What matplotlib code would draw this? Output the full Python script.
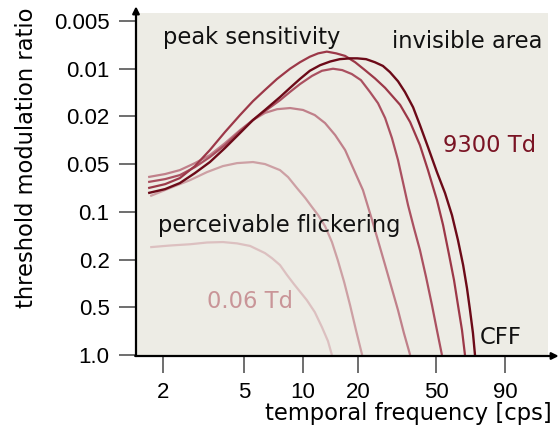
import numpy as np
import matplotlib
matplotlib.use("Agg")
import matplotlib.pyplot as plt
from matplotlib.ticker import NullLocator

# ---------------- data ----------------
freq_ticks = [2, 5, 10, 20, 50, 90]
freq_labels = ["2", "5", "10", "20", "50", "90"]
ratio_ticks = [0.005, 0.01, 0.02, 0.05, 0.1, 0.2, 0.5, 1.0]
ratio_labels = ["0.005", "0.01", "0.02", "0.05", "0.1", "0.2", "0.5", "1.0"]

# curve for 0.06 Td (lowest retinal illuminance)
c1_f = [1.73, 2.16, 2.72, 3.29, 3.94, 4.62, 5.37, 6.40, 6.95, 7.63, 8.29, 8.99, 10.5, 11.6, 12.7, 13.7, 14.4]
c1_r = [0.167, 0.163, 0.160, 0.156, 0.155, 0.158, 0.164, 0.182, 0.196, 0.222, 0.269, 0.320, 0.436, 0.536, 0.667, 0.817, 1.0]

c2_f = [1.73, 2.16, 2.72, 3.29, 3.94, 4.62, 5.56, 6.40, 7.63, 8.39, 9.32, 10.3, 11.2, 12.1, 13.2, 14.4, 15.5, 16.8, 18.1, 19.5, 21.0]
c2_r = [0.0795, 0.0708, 0.063, 0.0561, 0.0514, 0.049, 0.048, 0.0499, 0.0545, 0.0603, 0.0708, 0.0818, 0.0932, 0.1048, 0.123, 0.155, 0.202, 0.308, 0.48, 0.697, 1.0]

c3_f = [1.69, 2.05, 2.42, 2.87, 3.40, 4.03, 4.78, 5.56, 6.40, 7.37, 8.59, 10.0, 11.6, 13.2, 15.0, 17.0, 18.5, 21.2, 23.6, 27.5, 32.0, 34.3, 36.9]
c3_r = [0.0603, 0.0577, 0.0545, 0.049, 0.042, 0.0334, 0.026, 0.0214, 0.019, 0.018, 0.0177, 0.0182, 0.0196, 0.0227, 0.0286, 0.0381, 0.0507, 0.0729, 0.1127, 0.222, 0.521, 0.727, 1.0]

c4_f = [1.69, 2.05, 2.42, 2.87, 3.40, 4.03, 4.78, 5.56, 6.40, 7.63, 8.59, 9.65, 11.2, 12.7, 14.6, 16.4, 18.5, 20.7, 23.0, 25.3, 27.5, 29.8, 32.0, 33.9, 36.0, 38.6, 41.4, 44.5, 47.7, 50.4, 52.6]
c4_r = [0.0648, 0.0621, 0.0586, 0.0522, 0.0436, 0.0347, 0.0265, 0.0214, 0.0185, 0.0158, 0.0140, 0.0125, 0.0111, 0.0103, 0.0100, 0.0102, 0.0108, 0.0118, 0.014, 0.0165, 0.0206, 0.0303, 0.0462, 0.0648, 0.0906, 0.1265, 0.174, 0.280, 0.48, 0.697, 1.0]

c5_f = [1.69, 2.05, 2.42, 2.87, 3.40, 4.03, 4.78, 5.56, 6.40, 7.37, 8.59, 9.65, 10.9, 12.1, 13.5, 15.2, 17.0, 19.3, 21.7, 24.4, 27.5, 32.8, 36.9, 41.4, 45.5, 50.4, 53.1, 55.9, 58.3, 60.3, 62.4, 64.0]
c5_r = [0.0708, 0.0668, 0.0612, 0.0514, 0.0381, 0.027, 0.0196, 0.016, 0.0136, 0.0116, 0.0100, 0.0091, 0.0084, 0.0080, 0.0078, 0.0080, 0.0083, 0.0091, 0.0102, 0.0115, 0.0132, 0.0169, 0.0223, 0.0347, 0.0545, 0.0842, 0.121, 0.187, 0.297, 0.48, 0.697, 1.0]

# curve for 9300 Td (highest retinal illuminance)
c6_f = [1.69, 2.05, 2.42, 2.87, 3.40, 4.03, 4.78, 5.56, 6.40, 7.63, 8.59, 9.65, 10.9, 12.4, 14.1, 15.9, 18.1, 19.8, 22.0, 24.4, 26.8, 29.1, 32.0, 34.7, 38.2, 41.4, 45.5, 50.4, 54.0, 57.3, 60.3, 63.0, 65.1, 66.8, 68.5, 69.7]
c6_r = [0.0761, 0.0718, 0.0658, 0.0569, 0.048, 0.0367, 0.0275, 0.0214, 0.0182, 0.0151, 0.0132, 0.0116, 0.0103, 0.0095, 0.0090, 0.0087, 0.0086, 0.0086, 0.0087, 0.0091, 0.0096, 0.0105, 0.012, 0.014, 0.0175, 0.0236, 0.036, 0.0561, 0.0761, 0.105, 0.151, 0.222, 0.346, 0.521, 0.727, 1.0]

# ---------------- axis mapping (layout of the drawn axes) ----------------
XTICK_POS = [163, 244, 303, 358, 436, 505]          # where each frequency tick sits
lx_t = np.log10(freq_ticks)
s_lo = (XTICK_POS[1] - XTICK_POS[0]) / (lx_t[1] - lx_t[0])
s_hi = (XTICK_POS[-1] - XTICK_POS[-2]) / (lx_t[-1] - lx_t[-2])
LX = np.concatenate([[-1.0], lx_t, [3.0]])
PX = np.concatenate([[XTICK_POS[0] - s_lo * (lx_t[0] + 1.0)], XTICK_POS,
                     [XTICK_POS[-1] + s_hi * (3.0 - lx_t[-1])]])


def fx(x):
    x = np.clip(np.asarray(x, float), 1e-6, None)
    return np.interp(np.log10(x), LX, PX)


def fx_inv(p):
    return 10 ** np.interp(np.asarray(p, float), PX, LX)


ly_t = np.log10(ratio_ticks)
IDX = np.arange(len(ratio_ticks), dtype=float)     # ticks equally spaced
g_lo = (ly_t[1] - ly_t[0])
g_hi = (ly_t[-1] - ly_t[-2])
LY = np.concatenate([[ly_t[0] - 3 * g_lo], ly_t, [ly_t[-1] + 3 * g_hi]])
IY = np.concatenate([[-3.0], IDX, [IDX[-1] + 3.0]])


def fy(v):
    v = np.clip(np.asarray(v, float), 1e-9, None)
    return np.interp(np.log10(v), LY, IY)


def fy_inv(i):
    return 10 ** np.interp(np.asarray(i, float), IY, LY)


# ---------------- figure ----------------
fig = plt.figure(figsize=(5.6, 4.28), dpi=100)
ax = fig.add_axes([136 / 560, 1 - 356 / 428, 412 / 560, 343 / 428])
ax.set_facecolor("#edece5")

ax.set_xscale("function", functions=(fx, fx_inv))
ax.set_yscale("function", functions=(fy, fy_inv))
ax.set_xlim(fx_inv(136), fx_inv(548))
ax.set_ylim(fy_inv(7.02), fy_inv(-0.168))

curves = [(c1_f, c1_r, "#dcc0c0", 1.6),
          (c2_f, c2_r, "#cda0a4", 1.6),
          (c3_f, c3_r, "#c0808a", 1.6),
          (c4_f, c4_r, "#aa5060", 1.6),
          (c5_f, c5_r, "#9c3848", 1.6),
          (c6_f, c6_r, "#6c0a18", 1.7)]
for f, r, col, lw in curves:
    ax.plot(f, r, color=col, lw=lw, solid_capstyle="butt", solid_joinstyle="round")

for s in ax.spines.values():
    s.set_visible(False)

ax.annotate("", xy=(0, 1.0195), xytext=(0, 0), xycoords="axes fraction",
            arrowprops=dict(arrowstyle="-|>", color="black", lw=1.6,
                            mutation_scale=10, shrinkA=0, shrinkB=0))
ax.annotate("", xy=(1.026, 0), xytext=(-0.002, 0), xycoords="axes fraction",
            arrowprops=dict(arrowstyle="-|>", color="black", lw=1.6,
                            mutation_scale=10, shrinkA=0, shrinkB=0))

ax.set_xticks(freq_ticks)
ax.set_xticklabels(freq_labels)
ax.set_yticks(ratio_ticks)
ax.set_yticklabels(ratio_labels)
ax.xaxis.set_minor_locator(NullLocator())
ax.yaxis.set_minor_locator(NullLocator())
ax.tick_params(axis="both", direction="out", length=12, width=1.2,
               color="#555555", labelsize=16, pad=7)
for lab in ax.get_xticklabels() + ax.get_yticklabels():
    lab.set_family("Liberation Sans")

tf = dict(family="DejaVu Sans", fontsize=16.3)
ax.text(0.066, 0.9096, "peak sensitivity", transform=ax.transAxes, va="baseline", color="#111111", **tf)
ax.text(0.621, 0.899, "invisible area", transform=ax.transAxes, va="baseline", color="#111111", **tf)
ax.text(0.053, 0.361, "perceivable flickering", transform=ax.transAxes, va="baseline", color="#111111", **tf)
ax.text(0.744, 0.596, "9300 Td", transform=ax.transAxes, va="baseline", color="#7a1424", **tf)
ax.text(0.173, 0.139, "0.06 Td", transform=ax.transAxes, va="baseline", color="#c99598", **tf)
ax.text(0.835, 0.035, "CFF", transform=ax.transAxes, va="baseline", color="#111111", **tf)

fig.text(26.5 / 560, 1 - 157.5 / 428, "threshold modulation ratio", rotation=90,
         ha="center", va="center", **tf)
fig.text(408 / 560, 1 - 420 / 428, "temporal frequency [cps]", ha="center",
         va="baseline", **tf)

fig.savefig("out.png", dpi=100, facecolor="white")
